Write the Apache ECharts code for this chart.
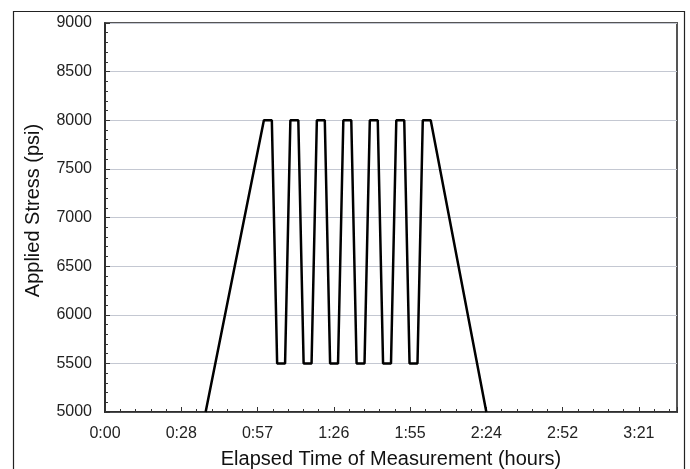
<!DOCTYPE html>
<html>
<head>
<meta charset="utf-8">
<script src="https://cdn.jsdelivr.net/npm/echarts@6/dist/echarts.min.js"></script>
<style>
html, body { margin: 0; padding: 0; background: #fff; }
#chart { width: 690px; height: 469px; }
</style>
</head>
<body>
<div id="chart"></div>
<script>
// elapsed time in minutes, stress in psi
const timeMin = [38, 60, 63, 65, 68, 70, 73, 75, 78, 80, 83, 85, 88, 90, 93, 95, 98, 100, 103, 105, 108, 110, 113, 115, 118, 120, 123, 144];
const stressPsi = [5000, 8000, 8000, 5500, 5500, 8000, 8000, 5500, 5500, 8000, 8000, 5500, 5500, 8000, 8000, 5500, 5500, 8000, 8000, 5500, 5500, 8000, 8000, 5500, 5500, 8000, 8000, 5000];
const xTickLabels = ['0:00', '0:28', '0:57', '1:26', '1:55', '2:24', '2:52', '3:21'];

const chart = echarts.init(document.getElementById('chart'));
const font = 'Liberation Sans, Arial, sans-serif';

const option = {
    animation: false,
    graphic: [{
        type: 'rect',
        shape: { x: 13.5, y: 11.5, width: 671, height: 480 },
        style: { fill: 'none', stroke: '#222', lineWidth: 1.2 },
        silent: true
    }],
    grid: {
        left: 105,
        top: 23,
        right: 13,
        bottom: 57,
        outerBoundsMode: 'none',
        containLabel: false,
        show: true,
        borderColor: '#555',
        borderWidth: 2
    },
    xAxis: {
        type: 'value',
        min: 0,
        max: 216,
        interval: 28.8,
        name: 'Elapsed Time of Measurement (hours)',
        nameLocation: 'middle',
        nameGap: 37,
        nameTextStyle: { fontFamily: font, fontSize: 20, color: '#111' },
        axisLine: { show: true, lineStyle: { color: '#222', width: 1.5 } },
        axisTick: { show: true, inside: true, length: 5, lineStyle: { color: '#333' } },
        minorTick: { show: true, splitNumber: 5, length: 3, lineStyle: { color: '#333' } },
        splitLine: { show: false },
        axisLabel: {
            fontFamily: font,
            fontSize: 16,
            color: '#222',
            margin: 14,
            showMaxLabel: false,
            formatter: function (v) {
                const i = Math.round(v / 28.8);
                return xTickLabels[i] !== undefined ? xTickLabels[i] : '';
            }
        }
    },
    yAxis: {
        type: 'value',
        min: 5000,
        max: 9000,
        interval: 500,
        name: 'Applied Stress (psi)',
        nameLocation: 'middle',
        nameGap: 62,
        nameTextStyle: { fontFamily: font, fontSize: 20, color: '#111', padding: [0, 0, 0, 14] },
        axisLine: { show: true, lineStyle: { color: '#222', width: 1.5 } },
        axisTick: { show: true, inside: true, length: 5, lineStyle: { color: '#333' } },
        minorTick: { show: true, splitNumber: 5, length: 3, lineStyle: { color: '#333' } },
        splitLine: { show: true, lineStyle: { color: '#c4c8d2', width: 1 } },
        axisLabel: {
            fontFamily: font,
            fontSize: 16,
            color: '#222',
            margin: 13,
            formatter: function (v) { return String(v); }
        }
    },
    series: [{
        type: 'line',
        data: timeMin.map((t, i) => [t, stressPsi[i]]),
        showSymbol: false,
        lineStyle: { color: '#000', width: 2.5 },
        clip: true
    }]
};
chart.setOption(option);
</script>
</body>
</html>
